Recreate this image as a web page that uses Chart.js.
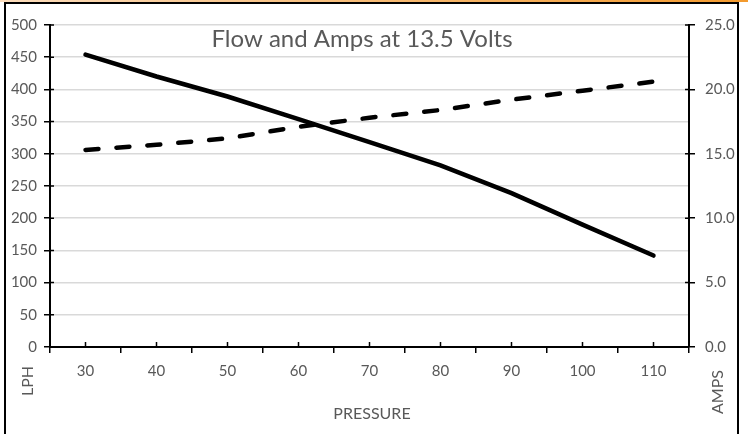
<!DOCTYPE html>
<html>
<head>
<meta charset="utf-8">
<script src="https://cdn.jsdelivr.net/npm/chart.js@4"></script>
<style>
  body { margin: 0; background: #fff; }
  canvas { display: block; }
</style>
</head>
<body>
<canvas id="flowChart" width="748" height="434"></canvas>
<script>
const pressure = [30, 40, 50, 60, 70, 80, 90, 100, 110];
const flowLph = [454, 420, 389, 354, 318, 282, 239, 190, 142];
const amps = [15.3, 15.7, 16.2, 17.1, 17.8, 18.4, 19.2, 19.9, 20.6];
const chartTitle = "Flow and Amps at 13.5 Volts";
const xTitle = "PRESSURE";
const leftTitle = "LPH";
const rightTitle = "AMPS";

const textColor = "#595959";
const fontFamily = "Lato, 'Liberation Sans', sans-serif";
Chart.defaults.font.family = fontFamily;
Chart.defaults.font.size = 15;
Chart.defaults.color = textColor;

// frame, title and axis titles are drawn by hand so they can sit where the original has them
const decorations = {
  id: "decorations",
  beforeDraw(chart) {
    const ctx = chart.ctx;
    ctx.save();
    ctx.fillStyle = "#fff";
    ctx.fillRect(0, 0, chart.width, chart.height);
    const grad = ctx.createLinearGradient(0, 0, chart.width, 0);
    grad.addColorStop(0, "#fbdcbc");
    grad.addColorStop(1, "#f39a2e");
    ctx.fillStyle = grad;
    ctx.fillRect(0, 0, chart.width, 2);
    ctx.restore();
  },
  afterDraw(chart) {
    const ctx = chart.ctx;
    const area = chart.chartArea;
    const xs = chart.scales.x;
    const yl = chart.scales.y;
    const yr = chart.scales.y1;
    ctx.save();

    // outer frame
    ctx.strokeStyle = "#000";
    ctx.lineWidth = 2;
    ctx.beginPath();
    ctx.moveTo(5, chart.height);
    ctx.lineTo(5, 3);
    ctx.lineTo(738, 3);
    ctx.lineTo(738, chart.height);
    ctx.stroke();

    // inner halves of the axis ticks
    ctx.lineWidth = 1.5;
    ctx.beginPath();
    yl.ticks.forEach((t) => {
      const y = yl.getPixelForValue(t.value);
      ctx.moveTo(area.left, y);
      ctx.lineTo(area.left + 4, y);
    });
    yr.ticks.forEach((t) => {
      const y = yr.getPixelForValue(t.value);
      ctx.moveTo(area.right - 4, y);
      ctx.lineTo(area.right, y);
    });
    pressure.forEach((p, i) => {
      const x = xs.getPixelForValue(i);
      ctx.moveTo(x, area.bottom);
      ctx.lineTo(x, area.bottom - 5);
    });
    ctx.stroke();

    ctx.fillStyle = textColor;
    ctx.textAlign = "center";
    ctx.textBaseline = "middle";
    ctx.font = "24px " + fontFamily;
    ctx.fillText(chartTitle, 362, 39);

    ctx.font = "16px " + fontFamily;
    ctx.fillText(xTitle, 372, 414);

    ctx.translate(28, 381);
    ctx.rotate(-Math.PI / 2);
    ctx.fillText(leftTitle, 0, 0);
    ctx.setTransform(1, 0, 0, 1, 0, 0);
    ctx.translate(718, 392);
    ctx.rotate(-Math.PI / 2);
    ctx.fillText(rightTitle, 0, 0);
    ctx.restore();
  },
};

new Chart(document.getElementById("flowChart").getContext("2d"), {
  type: "line",
  data: {
    labels: pressure,
    datasets: [
      {
        label: "Flow (LPH)",
        data: flowLph,
        yAxisID: "y",
        borderColor: "#000",
        borderWidth: 4.5,
        borderCapStyle: "round",
        pointRadius: 0,
        tension: 0,
      },
      {
        label: "Amps",
        data: amps,
        yAxisID: "y1",
        borderColor: "#000",
        borderWidth: 4.5,
        borderCapStyle: "round",
        borderDash: [13, 18],
        pointRadius: 0,
        tension: 0,
      },
    ],
  },
  options: {
    responsive: false,
    animation: false,
    layout: { padding: { left: 5, top: 25, right: 0, bottom: 0 } },
    plugins: {
      legend: { display: false },
      title: { display: false },
      tooltip: { enabled: false },
    },
    scales: {
      x: {
        type: "category",
        offset: true,
        grid: {
          offset: true,
          drawOnChartArea: false,
          tickColor: "#000",
          tickLength: 6,
          lineWidth: 1.5,
        },
        border: { color: "#000", width: 2 },
        ticks: { padding: 9, color: textColor },
        afterFit(scale) {
          scale.height = 87;
        },
      },
      y: {
        position: "left",
        min: 0,
        max: 500,
        ticks: { stepSize: 50, padding: 7, color: textColor },
        grid: {
          color: "#d9d9d9",
          lineWidth: 1.5,
          tickColor: "#000",
          tickLength: 6,
        },
        border: { color: "#000", width: 2 },
        afterFit(scale) {
          scale.width = 45;
        },
      },
      y1: {
        position: "right",
        min: 0,
        max: 25,
        ticks: {
          stepSize: 5,
          padding: 10,
          color: textColor,
          callback: (v) => v.toFixed(1),
        },
        grid: {
          drawOnChartArea: false,
          tickColor: "#000",
          tickLength: 6,
          lineWidth: 1.5,
        },
        border: { color: "#000", width: 2 },
        afterFit(scale) {
          scale.width = 59;
        },
      },
    },
  },
  plugins: [decorations],
});
</script>
</body>
</html>
